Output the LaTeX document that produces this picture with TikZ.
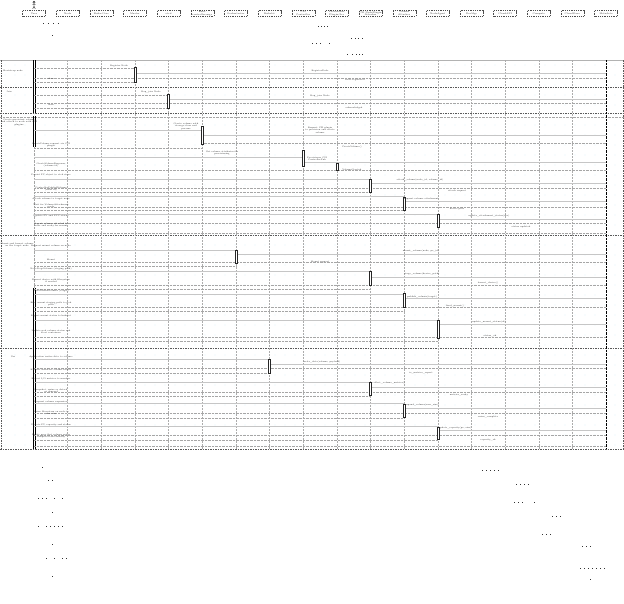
\documentclass[tikz,border=0pt]{standalone}
\usetikzlibrary{calc}
\begin{document}
\begin{tikzpicture}[x=1pt,y=-1pt,
  declare function={lx(\i)=34+33.65*\i;},
  lifeline/.style={draw=gray!65, line width=0.35pt, dash pattern=on 2pt off 1pt},
  msg/.style={draw=gray!45, line width=0.8pt},
  ret/.style={draw=gray!70, line width=0.35pt, dash pattern=on 0.6pt off 0.8pt},
  sep/.style={draw=black!65, line width=0.4pt, dash pattern=on 1.5pt off 1pt},
  actbar/.style={draw=black!85, fill=white, line width=0.4pt},
  lbl/.style={font=\fontsize{2.1}{2.5}\selectfont, inner sep=0pt, align=center, text=black!85},
  glbl/.style={font=\fontsize{2.1}{2.5}\selectfont, inner sep=0pt, align=center, text=black!85},
  pbox/.style={draw=black!70, line width=0.3pt, dash pattern=on 1pt off 0.8pt, fill=white,
    minimum width=23pt, minimum height=6pt, inner sep=0pt,
    font=\fontsize{2.3}{2.6}\selectfont, align=center, text=black!80},
  dotmark/.style={fill=black!80},
]
\useasboundingbox (0,0) rectangle (624,603);
\fill[white] (0,0) rectangle (624,603);

% ---------- background dot grid ----------
\foreach \gx in {5,15,...,615}
  \foreach \gy in {65,75,...,445}
    \fill[cyan!35] (\gx,\gy) circle (0.35pt);

% ---------- lifeline anchors ----------
\foreach \i in {0,...,17}
  \coordinate (L\i) at ({lx(\i)},60);

% ---------- participants ----------
\foreach \i/\nm in {0/User, 1/Node, 2/Kube-Core, 3/Master, 4/etcd,
  5/kube\\controller-mgr, 6/Orchestrator, 7/Kubelet, 8/CSI\\Controller,
  9/Provisioner\\Plugin-Svc, 10/CSI NodePlugin\\Attacher, 11/Volume\\Attacher,
  12/NodeAgent, 13/DevMgr, 14/CloudAPI, 15/Compute, 16/CloudStore, 17/Metadata}
  \node[pbox] (P\i) at ({lx(\i)},13.5) {\nm};

% actor
\draw[line width=0.3pt] (34,2.2) circle (1.1pt);
\draw[line width=0.3pt] (34,3.3) -- (34,6.3) (32.4,4.4) -- (35.6,4.4)
  (34,6.3) -- (32.7,8.8) (34,6.3) -- (35.3,8.8);

% ---------- frame ----------
\draw[draw=gray!60, line width=0.5pt] (0,60) -- (624,60);
\foreach \yy in {87,113,235,348,449}
  \draw[sep] (0,\yy) -- (624,\yy);
\draw[ret] (0,117) -- (624,117);
\draw[sep] (1,60) -- (1,449);
\draw[sep] (623,60) -- (623,449);

% lifelines
\foreach \i in {1,...,16}
  \draw[lifeline] (L\i) -- (L\i |- 0,449);
\draw[black, line width=0.8pt, dash pattern=on 0.7pt off 0.7pt] (L17) -- (L17 |- 0,449);
% user activation (double line)
\foreach \a/\b in {60/113, 116/147, 288/449} {
  \draw[line width=0.6pt] (33.3,\a) -- (33.3,\b);
  \draw[line width=0.6pt] (35.3,\a) -- (35.3,\b);
}
\draw[ret] (34,147) -- (34,288);

% helpers
\newcommand{\msgg}[3]{\draw[msg] (L#2 |- 0,#1) -- (L#3 |- 0,#1);}
\newcommand{\rett}[3]{\draw[ret] (L#2 |- 0,#1) -- (L#3 |- 0,#1);}
\newcommand{\actt}[3]{\draw[actbar] ({lx(#1)-1},#2) rectangle ({lx(#1)+1},#3);}

% ---------- section 1 ----------
\rett{68}{0}{3}
\msgg{73}{3}{17}
\rett{78}{0}{17}
\rett{82}{0}{3}
\actt{3}{67}{82}
\node[glbl] (g1) at (13,71) {Bootstrap node};
\node[lbl] (a1) at (119,66) {Register Node};
\node[lbl] (a2) at (320,71) {RegisterNode};
\node[lbl] (a3) at (355,80) {node registered};
\node[lbl] (a4) at (51,79) {done};

% ---------- section 2 ----------
\rett{95}{0}{4}
\msgg{99}{4}{17}
\rett{103.5}{0}{17}
\rett{108}{0}{4}
\actt{4}{94}{108}
\node[glbl] (g2) at (9,92) {Join};
\node[lbl] (b1) at (151,92) {Req\_join Node};
\node[lbl] (b2) at (320,96) {Req\_join Node};
\node[lbl] (b3) at (354,108) {acknowledged};
\node[lbl] (b4) at (51,105) {done};

% ---------- section 3 ----------
\msgg{130}{0}{5}  \msgg{135}{5}{17}  \rett{143}{5}{17} \rett{148}{0}{5}
\msgg{157}{0}{8}  \msgg{162}{8}{17}  \rett{170}{0}{17}
\msgg{179}{0}{10} \msgg{183}{10}{17} \rett{188}{0}{17} \rett{192}{0}{10}
\msgg{196}{0}{11} \msgg{201}{11}{17} \rett{207}{0}{17} \rett{210}{0}{11}
\msgg{214}{0}{12} \msgg{219}{12}{17} \rett{223}{0}{17} \rett{233}{0}{17}
\actt{5}{126}{144}
\actt{8}{150}{166}
\actt{9}{163}{170}
\actt{10}{179}{192}
\actt{11}{197}{210}
\actt{12}{214}{227}
\node[glbl] (g3) at (19,122) {Create persistent volume\\and attach to node with CSI\\plugins};
\node[lbl] (c1) at (186,126) {Create volume with\\storage class and\\params};
\node[lbl] (c2) at (320,130) {Request CSI plugin\\to provision and create\\volume};
\node[lbl] (c3) at (51,145) {CreateVolume request via CSI\\plugin};
\node[lbl] (c4) at (222,153) {Get volume attributes for\\provisioning};
\node[lbl] (c5) at (317,159) {Provisioner CSI\\ControllerPub};
\node[lbl] (c6) at (352,147) {CreateVolume()};
\node[lbl] (c7) at (352,170) {VolumeCreated};
\node[lbl] (c8) at (51,165) {CreateVolumeResponse\\(volume id)};
\node[lbl] (c9) at (51,175) {Persist PV object to etcd store};
\node[lbl] (c10) at (51,189) {ControllerPublishVolume\\(node id)};
\node[lbl] (c11) at (51,199) {Attach volume to target node};
\node[lbl] (c12) at (51,206) {Wait for VolumeAttachment\\ready};
\node[lbl] (c13) at (51,216) {Update PV and PVC status};
\node[lbl] (c14) at (51,225) {Report volume attached to\\node and ready for mount};
\node[lbl] (c15) at (420,180) {attach\_volume(node\_id, volume\_id)};
\node[lbl] (c16) at (421,199) {Request volume attachment};
\node[lbl] (c17) at (457,191) {attach request};
\node[lbl] (c18) at (457,209) {device path};
\node[lbl] (c19) at (489,216) {update\_attachment\_status(dev)};
\node[lbl] (c20) at (521,227) {status updated};

% ---------- section 4 ----------
\msgg{250}{0}{6}  \msgg{254}{6}{17}  \rett{262}{0}{17} \rett{266}{0}{6}
\msgg{271}{0}{10} \msgg{277}{10}{17} \rett{285}{0}{17} \rett{289}{0}{10}
\msgg{294}{0}{11} \msgg{298}{11}{17} \rett{307}{0}{17} \rett{311}{0}{11}
\msgg{320}{0}{12} \msgg{324}{12}{17} \rett{337}{0}{17} \rett{341}{0}{12}
\actt{6}{250}{263}
\actt{10}{271}{285}
\actt{11}{293}{307}
\actt{12}{320}{338}
\node[glbl] (g4) at (17,245) {Mount and format volume\\on the target node};
\node[lbl] (d1) at (51,246) {Request mount volume on node};
\node[lbl] (d2) at (51,260) {Mount};
\node[lbl] (d3) at (51,269) {NodeStageVolume (staging path)};
\node[lbl] (d4) at (51,281) {Format device with filesystem\\if needed};
\node[lbl] (d5) at (51,291) {NodePublishVolume (target)};
\node[lbl] (d6) at (51,304) {Bind mount staging path to pod\\path};
\node[lbl] (d7) at (51,316) {Report mount status to kubelet};
\node[lbl] (d8) at (51,332) {Update pod volume status and\\start containers};
\node[lbl] (d9) at (421,251) {mount\_volume(node, pv\_id)};
\node[lbl] (d10) at (320,262) {Mount request};
\node[lbl] (d11) at (422,274) {stage\_volume(device\_path)};
\node[lbl] (d12) at (488,283) {format\_device()};
\node[lbl] (d13) at (422,297) {publish\_volume(target)};
\node[lbl] (d14) at (455,306) {bind\_mount()};
\node[lbl] (d15) at (489,322) {update\_mount\_status(ok)};
\node[lbl] (d16) at (490,336) {status\_ok};

% ---------- section 5 ----------
\msgg{359}{0}{7}  \msgg{364}{7}{17}  \rett{368}{0}{17} \rett{373}{0}{7}
\msgg{382}{0}{10} \msgg{387}{10}{17} \rett{392}{0}{17} \rett{396}{0}{10}
\msgg{403}{0}{11} \msgg{408}{11}{17} \rett{413}{0}{17} \rett{418}{0}{11}
\msgg{426}{0}{12} \msgg{430}{12}{17} \rett{435}{0}{17} \rett{440}{0}{12}
\rett{446}{0}{17}
\actt{7}{359}{373}
\actt{10}{382}{395}
\actt{11}{404}{417}
\actt{12}{427}{439}
\node[glbl] (g5) at (13,357) {Use};
\node[lbl] (e1) at (51,357) {Application writes data to volume};
\node[lbl] (e2) at (51,370) {Kubelet monitors volume health};
\node[lbl] (e3) at (51,379) {Report I/O metrics to monitor};
\node[lbl] (e4) at (51,391) {Snapshot, resize or detach\\on demand};
\node[lbl] (e5) at (51,402) {Request volume expansion};
\node[lbl] (e6) at (51,413) {Resize filesystem on node to\\new size};
\node[lbl] (e7) at (51,425) {Update PV capacity and status};
\node[lbl] (e8) at (51,436) {Notify user that volume resize\\completed successfully};
\node[lbl] (e9) at (322,362) {write\_data(volume, payload)};
\node[lbl] (e10) at (421,373) {io\_metrics\_report};
\node[lbl] (e11) at (389,383) {collect\_volume\_metrics()};
\node[lbl] (e12) at (459,395) {metrics\_ready};
\node[lbl] (e13) at (422,405) {expand\_volume(new\_size)};
\node[lbl] (e14) at (488,417) {resize\_complete};
\node[lbl] (e15) at (455,428) {update\_capacity(pv, size)};
\node[lbl] (e16) at (488,440) {capacity\_ok};

% ---------- stray dots (header and footer) ----------
\foreach \dx/\dy in {43/23,48/23,53/23,58/23, 52/35,
  318/26,321/26,324/26,327/26, 312/43,316/43,320/43,329/43,
  351/38,355/38,358/38,362/38, 347/54,352/54,356/54,359/54,362/54,
  42/467, 48/480,52/480, 38/498,42/498,46/498,54/498,62/498, 52/512,
  38/526,46/526,50/526,54/526,58/526,62/526, 52/544,
  46/558,54/558,62/558,66/558, 52/576,
  482/470,486/470,490/470,494/470,498/470,
  516/484,520/484,524/484,528/484,
  514/502,518/502,522/502,534/502,
  552/516,556/516,560/516, 542/534,546/534,550/534,
  582/546,586/546,590/546,
  580/568,584/568,588/568,592/568,596/568,600/568,604/568, 590/579}
  \fill[dotmark] (\dx-0.35,\dy-0.35) rectangle (\dx+0.35,\dy+0.35);
\end{tikzpicture}
\end{document}
